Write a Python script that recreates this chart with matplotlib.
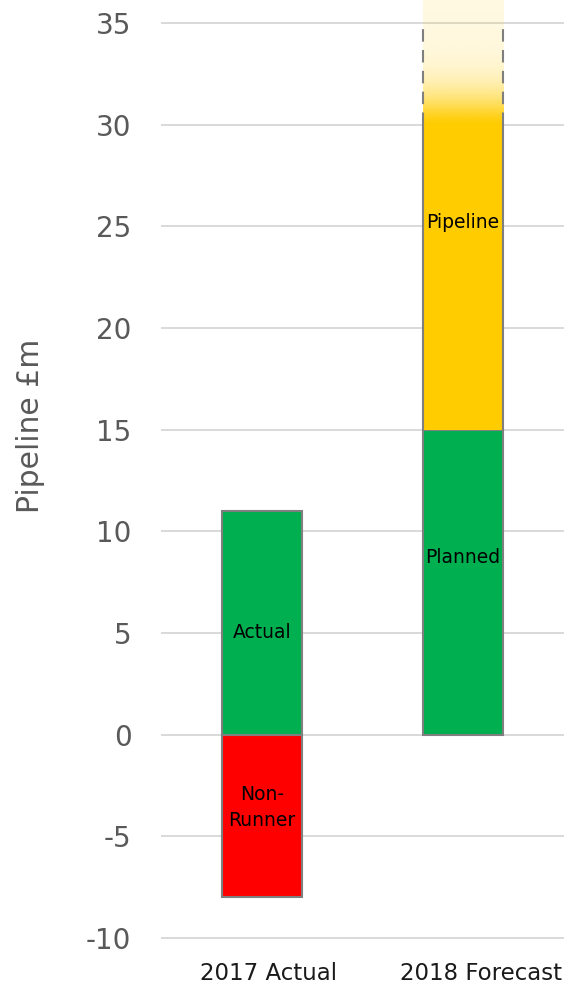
import numpy as np
import matplotlib
matplotlib.use("Agg")
import matplotlib.pyplot as plt
from matplotlib.transforms import ScaledTranslation
from matplotlib.colors import to_rgb

# ---- data ----
categories = ["2017 Actual", "2018 Forecast"]
green_values = [11, 15]      # Actual / Planned
red_values = [-8, 0]         # Non-Runner
yellow_values = [0, 15]      # Pipeline, stacked on the green segment
upside_values = [0, 5]       # uncertain upside above the pipeline (faded)

segment_labels = ["Actual", "Non-\nRunner", "Planned", "Pipeline"]
segment_label_cat = [0, 0, 1, 1]
segment_label_y = [5.0, -3.6, 8.7, 25.2]

y_ticks = [-10, -5, 0, 5, 10, 15, 20, 25, 30, 35]

# ---- style ----
GREEN = "#00B050"
RED = "#FF0000"
YELLOW = "#FFCC00"
EDGE = "#7F7F7F"
GRID = "#D9D9D9"
TEXT_GREY = "#595959"
BAR_W = 0.4
EDGE_LW = 1.5

fig = plt.figure(figsize=(5.70, 9.89), dpi=100)
ax = fig.add_axes([162 / 570, 51 / 989, 401 / 570, 938 / 989])

x = np.arange(len(categories))

ax.bar(x, green_values, width=BAR_W, color=GREEN, edgecolor=EDGE,
       linewidth=EDGE_LW, zorder=3)
neg_idx = [i for i, v in enumerate(red_values) if v != 0]
ax.bar(x[neg_idx], [red_values[i] for i in neg_idx], width=BAR_W, color=RED,
       edgecolor=EDGE, linewidth=EDGE_LW, zorder=3)

pip_idx = [i for i, v in enumerate(yellow_values) if v != 0]
ax.bar(x[pip_idx], [yellow_values[i] for i in pip_idx],
       bottom=[green_values[i] for i in pip_idx], width=BAR_W,
       color=YELLOW, linewidth=0, zorder=3)

top_y = 46.13 - 10
for i in pip_idx:
    base = green_values[i]
    top = base + yellow_values[i]
    left, right = x[i] - BAR_W / 2, x[i] + BAR_W / 2
    # side edges of the pipeline segment (open top)
    ax.vlines([left, right], base, top, color=EDGE, lw=EDGE_LW, zorder=4)
    # faded upside above the pipeline
    up = upside_values[i]
    grad_top = top + up + 2
    yy = np.linspace(top, grad_top, 400)
    alpha = 0.12 + 0.88 * np.exp(-((yy - top) / 1.6) ** 1.5)
    rgba = np.zeros((len(yy), 2, 4))
    rgba[..., :3] = to_rgb(YELLOW)
    rgba[..., 3] = alpha[:, None]
    ax.imshow(rgba, extent=[left, right, top, grad_top], origin="lower",
              aspect="auto", interpolation="bilinear", zorder=3.5)
    ax.vlines([left, right], top, top + up, color=EDGE, lw=EDGE_LW,
              linestyles=(0, (6, 4)), zorder=5)

for lab, ci, yv in zip(segment_labels, segment_label_cat, segment_label_y):
    ax.text(x[ci], yv, lab, ha="center", va="center", fontsize=13.5,
            color="black", linespacing=1.45, zorder=6)

ax.set_xlim(-0.5, 1.5)
ax.set_ylim(-10, top_y)
ax.set_yticks(y_ticks)
ax.set_yticklabels([str(v) for v in y_ticks], color=TEXT_GREY, fontsize=20)
ax.set_xticks(x)
ax.set_xticklabels(categories, fontsize=16.5, color="#1a1a1a")
ax.tick_params(axis="y", length=0, pad=22)
ax.tick_params(axis="x", length=0, pad=17)

shifts = [6, 18]
for lbl, s in zip(ax.get_xticklabels(), shifts):
    lbl.set_transform(lbl.get_transform() + ScaledTranslation(s / 100, 0, fig.dpi_scale_trans))

ax.yaxis.grid(True, color=GRID, lw=1.4)
for gl in ax.get_ygridlines():
    gl.set_clip_on(False)
ax.set_axisbelow(True)
for sp in ax.spines.values():
    sp.set_visible(False)

fig.text(31 / 570, 1 - 426 / 989, "Pipeline £m", rotation=90, ha="center",
         va="center", fontsize=21.5, color=TEXT_GREY)

fig.savefig("out.png", dpi=100)
